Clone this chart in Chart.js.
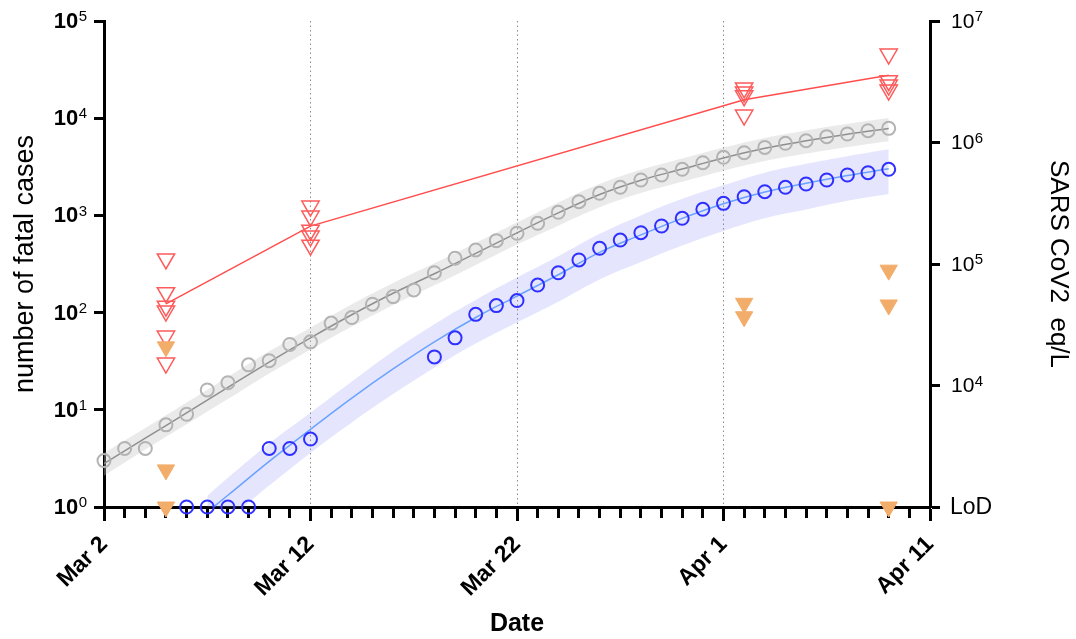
<!DOCTYPE html>
<html>
<head>
<meta charset="utf-8">
<script src="https://cdn.jsdelivr.net/npm/chart.js@4"></script>
<style>
html, body { margin: 0; padding: 0; background: #fff; }
</style>
</head>
<body>
<canvas id="chart" width="1076" height="639"></canvas>
<script>
// x axis: days after Mar 2
const xTickDays = [0, 10, 20, 30, 40];
const xTickLabels = ["Mar 2", "Mar 12", "Mar 22", "Apr 1", "Apr 11"];

const leftTicks = [1, 10, 100, 1000, 10000, 100000];
const leftTickExp = ["0", "1", "2", "3", "4", "5"];
const rightTicks = [1e3, 1e4, 1e5, 1e6, 1e7];
const rightTickBase = ["LoD", "10", "10", "10", "10"];
const rightTickExp = ["", "4", "5", "6", "7"];

// fatal cases (grey)
const grayDays = [0, 1, 2, 3, 4, 5, 6, 7, 8, 9, 10, 11, 12, 13, 14, 15, 16, 17, 18, 19,
  20, 21, 22, 23, 24, 25, 26, 27, 28, 29, 30, 31, 32, 33, 34, 35, 36, 37, 38];
const grayCases = [3, 4, 4, 7, 9, 16, 19, 29, 32, 47, 50, 78, 89, 122, 146, 171, 257, 362, 441, 550,
  655, 830, 1076, 1384, 1688, 1945, 2313, 2604, 2980, 3486, 3960, 4417, 5010, 5520, 5870, 6457, 6876, 7432, 7868];

// fatal cases (blue)
const blueDays = [4, 5, 6, 7, 8, 9, 10, 16, 17, 18, 19, 20, 21, 22, 23, 24, 25, 26, 27,
  28, 29, 30, 31, 32, 33, 34, 35, 36, 37, 38];
const blueCases = [1, 1, 1, 1, 4, 4, 5, 35, 55, 96, 118, 133, 192, 257, 348, 459, 558, 664, 778,
  934, 1156, 1330, 1556, 1753, 1945, 2104, 2313, 2604, 2750, 2980];

// fitted curves and bands
const grayFitDays = [0, 2, 4, 6, 8, 10, 12, 14, 16, 18, 20, 22, 24, 26, 28, 30, 32, 34, 36, 38];
const grayFit = [2.8, 5.1, 9.3, 17, 31, 55, 95, 158, 251, 407, 660, 1060, 1640, 2300, 3000, 3900, 4900, 5850, 6850, 7850];
const grayUpper = [3.6, 6.5, 11.9, 21.8, 40, 70, 122, 202, 321, 521, 845, 1357, 2100, 2944, 3840, 4990, 6270, 7490, 8770, 10050];
const grayLower = [2.1, 3.9, 7.1, 12.9, 23.6, 41.8, 72, 120, 191, 309, 502, 784, 1214, 1702, 2220, 2886, 3626, 4329, 5069, 5809];

const blueFitDays = [5, 6, 8, 10, 12, 14, 16, 18, 20, 22, 24, 26, 28, 30, 32, 34, 36, 38];
const blueFit = [0.89, 1.32, 2.95, 6.3, 13.2, 26.3, 50, 89, 148, 245, 417, 631, 933, 1318, 1738, 2138, 2570, 3020];
const blueUpper = [1.3, 2.0, 4.5, 9.3, 19.5, 40, 76, 135, 229, 380, 646, 1000, 1480, 2040, 2750, 3390, 4070, 4790];
const blueLower = [0.5, 0.74, 1.66, 3.6, 7.4, 14.5, 27, 48, 79, 129, 219, 331, 490, 692, 933, 1148, 1413, 1660];

// SARS CoV2 eq/L samples (right axis)
const sampleDays = [3, 10, 31, 38];
const redLevels = [
  [110000, 58000, 45000, 41000, 25500, 15300],
  [300000, 248000, 190000, 170000, 143000],
  [2810000, 2600000, 2420000, 1680000],
  [5350000, 3230000, 2970000, 2700000]
];
const redMeans = [47000, 205000, 2250000, 3580000];
const orangeLevels = [
  [20800, 2020, 1000],
  [],
  [47500, 36800],
  [89000, 46000, 1000]
];

const FONT = "'Liberation Sans', Arial, Helvetica, sans-serif";
Chart.defaults.font.family = FONT;
Chart.defaults.color = "#000";

const pts = (xs, ys) => xs.map((x, i) => ({ x: x, y: ys[i] }));
const groupPts = (groups) => sampleDays.flatMap((d, i) => groups[i].map(v => ({ x: d, y: v })));

const powerTicks = {
  id: "powerTicks",
  afterDraw(chart) {
    const ctx = chart.ctx;
    const left = chart.scales.y;
    const right = chart.scales.y2;
    ctx.save();
    ctx.fillStyle = "#000";
    ctx.textBaseline = "middle";

    leftTicks.forEach((v, i) => {
      const y = left.getPixelForValue(v);
      const endX = left.right - 17;
      ctx.font = "15px " + FONT;
      const ew = ctx.measureText(leftTickExp[i]).width;
      ctx.textAlign = "left";
      ctx.fillText(leftTickExp[i], endX - ew, y - 4);
      ctx.font = "bold 22px " + FONT;
      ctx.textAlign = "right";
      ctx.fillText("10", endX - ew - 0.5, y + 1);
    });

    rightTicks.forEach((v, i) => {
      const y = right.getPixelForValue(v);
      const startX = right.left + 21;
      ctx.textAlign = "left";
      if (rightTickExp[i] === "") {
        ctx.font = "23px " + FONT;
        ctx.fillText(rightTickBase[i], startX - 1, y + 1);
        return;
      }
      ctx.font = "21px " + FONT;
      const bw = ctx.measureText(rightTickBase[i]).width;
      ctx.fillText(rightTickBase[i], startX, y + 1);
      ctx.font = "15px " + FONT;
      ctx.fillText(rightTickExp[i], startX + bw + 0.5, y - 4);
    });
    ctx.restore();
  }
};

new Chart(document.getElementById("chart"), {
  type: "scatter",
  data: {
    datasets: [
      {
        data: pts(grayFitDays, grayLower),
        showLine: true, pointRadius: 0, borderWidth: 0, tension: 0.4,
        fill: false, order: 10
      },
      {
        data: pts(grayFitDays, grayUpper),
        showLine: true, pointRadius: 0, borderWidth: 0, tension: 0.4,
        fill: "-1", backgroundColor: "rgba(195,195,195,0.35)", order: 10
      },
      {
        data: pts(blueFitDays, blueLower),
        showLine: true, pointRadius: 0, borderWidth: 0, tension: 0.4,
        fill: false, order: 10
      },
      {
        data: pts(blueFitDays, blueUpper),
        showLine: true, pointRadius: 0, borderWidth: 0, tension: 0.4,
        fill: "-1", backgroundColor: "rgba(125,130,250,0.2)", order: 10
      },
      {
        data: pts(grayFitDays, grayFit),
        showLine: true, pointRadius: 0, borderColor: "#8f8f8f", borderWidth: 1.5,
        tension: 0.4, order: 5
      },
      {
        data: pts(blueFitDays, blueFit),
        showLine: true, pointRadius: 0, borderColor: "#6aa2ff", borderWidth: 1.5,
        tension: 0.4, order: 5
      },
      {
        data: pts(sampleDays, redMeans),
        yAxisID: "y2",
        showLine: true, pointRadius: 0, borderColor: "#ff4d4d", borderWidth: 1.5,
        order: 5
      },
      {
        data: pts(grayDays, grayCases),
        pointStyle: "circle", pointRadius: 6.5, pointBorderWidth: 2,
        pointBorderColor: "#b3b3b3", pointBackgroundColor: "rgba(0,0,0,0)",
        clip: false, order: 1
      },
      {
        data: pts(blueDays, blueCases),
        pointStyle: "circle", pointRadius: 6.5, pointBorderWidth: 2,
        pointBorderColor: "#2f2fff", pointBackgroundColor: "rgba(0,0,0,0)",
        clip: false, order: 1
      },
      {
        data: groupPts(redLevels),
        yAxisID: "y2",
        pointStyle: "triangle", rotation: 180, pointRadius: 10, pointBorderWidth: 1.5,
        pointBorderColor: "#ff5a5a", pointBackgroundColor: "rgba(0,0,0,0)",
        clip: false, order: 1
      },
      {
        data: groupPts(orangeLevels),
        yAxisID: "y2",
        pointStyle: "triangle", rotation: 180, pointRadius: 10, pointBorderWidth: 1,
        pointBorderColor: "#f2ad6a", pointBackgroundColor: "#f2ad6a",
        clip: false, order: 0
      }
    ]
  },
  options: {
    responsive: false,
    animation: false,
    events: [],
    layout: { padding: { top: 21, left: 0, right: 0, bottom: 0 } },
    plugins: {
      legend: { display: false },
      tooltip: { enabled: false }
    },
    scales: {
      x: {
        type: "linear",
        min: 0,
        max: 40,
        afterFit: (s) => { s.height = 132; },
        border: { color: "#000", width: 3, dash: [1.5, 3] },
        grid: {
          color: (c) => ([10, 20, 30].includes(c.tick && c.tick.value) ? "#8a8a8a" : "rgba(0,0,0,0)"),
          lineWidth: 1,
          tickColor: "#000",
          tickWidth: 3,
          tickLength: 14,
          tickBorderDash: (c) => (xTickDays.includes(c.tick && c.tick.value) ? [] : [9, 40])
        },
        ticks: {
          stepSize: 1,
          autoSkip: false,
          minRotation: 45,
          maxRotation: 45,
          padding: 10,
          color: "#000",
          font: { size: 23, weight: "bold" },
          callback: (v) => {
            const i = xTickDays.indexOf(v);
            return i < 0 ? "" : xTickLabels[i];
          }
        },
        title: {
          display: true,
          text: "Date",
          color: "#000",
          font: { size: 25, weight: "bold" },
          padding: { top: 0, bottom: 0 }
        }
      },
      y: {
        type: "logarithmic",
        position: "left",
        min: 1,
        max: 100000,
        afterFit: (s) => { s.width = 104; },
        afterBuildTicks: (s) => { s.ticks = leftTicks.map(v => ({ value: v })); },
        border: { color: "#000", width: 3 },
        grid: {
          drawOnChartArea: false,
          tickColor: "#000",
          tickWidth: 3,
          tickLength: 10
        },
        ticks: { display: false },
        title: {
          display: true,
          text: "number of fatal cases",
          color: "#000",
          font: { size: 27 },
          padding: { top: 9, bottom: 0 }
        }
      },
      y2: {
        type: "logarithmic",
        position: "right",
        min: 1000,
        max: 10000000,
        afterFit: (s) => { s.width = 146; },
        afterBuildTicks: (s) => { s.ticks = rightTicks.map(v => ({ value: v })); },
        border: { color: "#000", width: 3 },
        grid: {
          drawOnChartArea: false,
          tickColor: "#000",
          tickWidth: 3,
          tickLength: 10
        },
        ticks: { display: false },
        title: {
          display: true,
          text: "SARS CoV2  eq/L",
          color: "#000",
          font: { size: 26 },
          padding: { top: 2, bottom: 0 }
        }
      }
    }
  },
  plugins: [powerTicks]
});
</script>
</body>
</html>
